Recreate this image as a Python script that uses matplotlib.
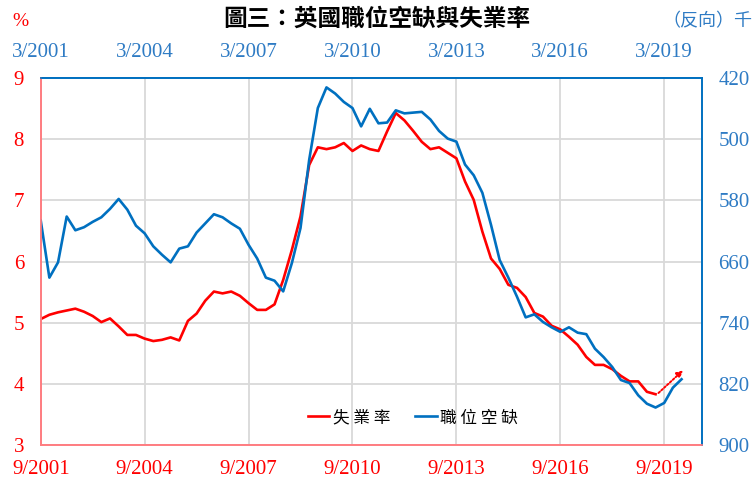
import matplotlib.pyplot as plt
import numpy as np

plt.rcParams['font.family'] = ['Liberation Serif', 'Noto Sans CJK TC']

# 失業率 (%), 季資料 9/2001 起
unemp = [5.06, 5.13, 5.17, 5.20, 5.23, 5.18, 5.11, 5.01, 5.07, 4.94,
         4.80, 4.80, 4.74, 4.70, 4.72, 4.76, 4.71, 5.03, 5.15, 5.36,
         5.51, 5.48, 5.51, 5.44, 5.32, 5.21, 5.21, 5.30, 5.70, 6.19,
         6.74, 7.58, 7.87, 7.84, 7.87, 7.94, 7.81, 7.90, 7.84, 7.81,
         8.13, 8.43, 8.31, 8.14, 7.96, 7.84, 7.87, 7.78, 7.69, 7.31,
         7.01, 6.49, 6.05, 5.88, 5.62, 5.57, 5.42, 5.16, 5.10, 4.95,
         4.89, 4.77, 4.64, 4.44, 4.31, 4.31, 4.24, 4.13, 4.04, 4.04,
         3.87, 3.83]

# 職位空缺 (千), 季資料 3/2001 起 (領先半年, 右軸反向)
vacancy = [606, 681, 661, 601, 619, 615, 608, 602, 591, 578,
           592, 613, 623, 640, 651, 661, 643, 640, 622, 610,
           598, 602, 610, 617, 638, 656, 681, 685, 699, 662,
           616, 527, 459, 432, 440, 451, 459, 483, 460, 479,
           478, 462, 466, 465, 464, 474, 489, 499, 503, 533,
           547, 570, 612, 658, 681, 706, 733, 729, 739, 746,
           752, 746, 753, 755, 774, 785, 798, 815, 819, 835,
           846, 851, 845, 825, 814]

label_years = [2001, 2004, 2007, 2010, 2013, 2016, 2019]
bottom_labels = [f"9/{y}" for y in label_years]
top_labels = [f"3/{y}" for y in label_years]
left_ticks = [3, 4, 5, 6, 7, 8, 9]
right_ticks = [420, 500, 580, 660, 740, 820, 900]

# 趨勢箭頭終點 (月, %)
arrow_end = (222.5, 4.22)

RED = '#FF0000'
BLUE = '#0070C0'
BLUE_TXT = '#2E7BC4'
SPINE_RED = '#FF7C80'

x_u = np.arange(len(unemp)) * 3
x_v = np.arange(len(vacancy)) * 3
tick_pos = [(y - 2001) * 12 for y in label_years]

fig = plt.figure(figsize=(7.54, 4.8), dpi=100)
ax = fig.add_axes([0.054, 0.073, 0.8767, 0.764])
ax_r = ax.twinx()

ax.plot(x_u, unemp, color=RED, lw=1.9, label='失 業 率')
ax_r.plot(x_v, vacancy, color=BLUE, lw=1.9, label='職 位 空 缺')

ax.annotate('', xy=arrow_end, xytext=(x_u[-1] + 1, unemp[-1] + 0.02),
            arrowprops=dict(arrowstyle='-|>', color=RED, lw=1.4,
                            linestyle=(0, (1, 1)), mutation_scale=9,
                            shrinkA=0, shrinkB=0))

ax.set_xlim(0, 229)
ax.set_ylim(3, 9)
ax_r.set_ylim(900, 420)

ax.set_xticks(tick_pos)
ax.set_xticklabels(bottom_labels)
ax.set_yticks(left_ticks)
ax_r.set_yticks(right_ticks)

ax.grid(True, color='#D9D9D9', lw=1.3)
ax.set_axisbelow(True)

ax.tick_params(axis='x', length=0, pad=11, labelsize=15, labelcolor=RED)
ax.tick_params(axis='y', length=0, pad=12, labelsize=15, labelcolor=RED)
ax_r.tick_params(axis='y', length=0, pad=12, labelsize=15, labelcolor=BLUE_TXT)

top = ax.secondary_xaxis('top')
top.set_xticks(tick_pos)
top.set_xticklabels(top_labels)
top.tick_params(length=0, pad=12, labelsize=15, labelcolor=BLUE_TXT)
top.spines['top'].set_color(BLUE)
top.spines['top'].set_linewidth(1.2)

for a in (ax, ax_r):
    a.spines['left'].set_color(SPINE_RED)
    a.spines['bottom'].set_color(SPINE_RED)
    a.spines['right'].set_color(BLUE)
    a.spines['top'].set_color(BLUE)
    for s in a.spines.values():
        s.set_linewidth(1.2)

h1, l1 = ax.get_legend_handles_labels()
h2, l2 = ax_r.get_legend_handles_labels()
ax_r.legend(h1 + h2, l1 + l2, loc='center', bbox_to_anchor=(0.563, 0.074),
            frameon=False, ncol=2, handlelength=1.3, handletextpad=0.2,
            columnspacing=1.5, prop={'family': ['Noto Sans CJK TC'], 'size': 12})

fig.text(0.5, 0.962, '圖三：英國職位空缺與失業率', ha='center', va='center',
         fontsize=17, fontweight='bold', family=['Noto Sans CJK TC'])
fig.text(0.027, 0.955, '%', ha='center', va='center', fontsize=14, color=RED)
fig.text(0.998, 0.955, '（反向）千', ha='right', va='center', fontsize=13,
         color=BLUE_TXT, family=['Noto Sans CJK TC'])

fig.savefig('out.png', dpi=100)
